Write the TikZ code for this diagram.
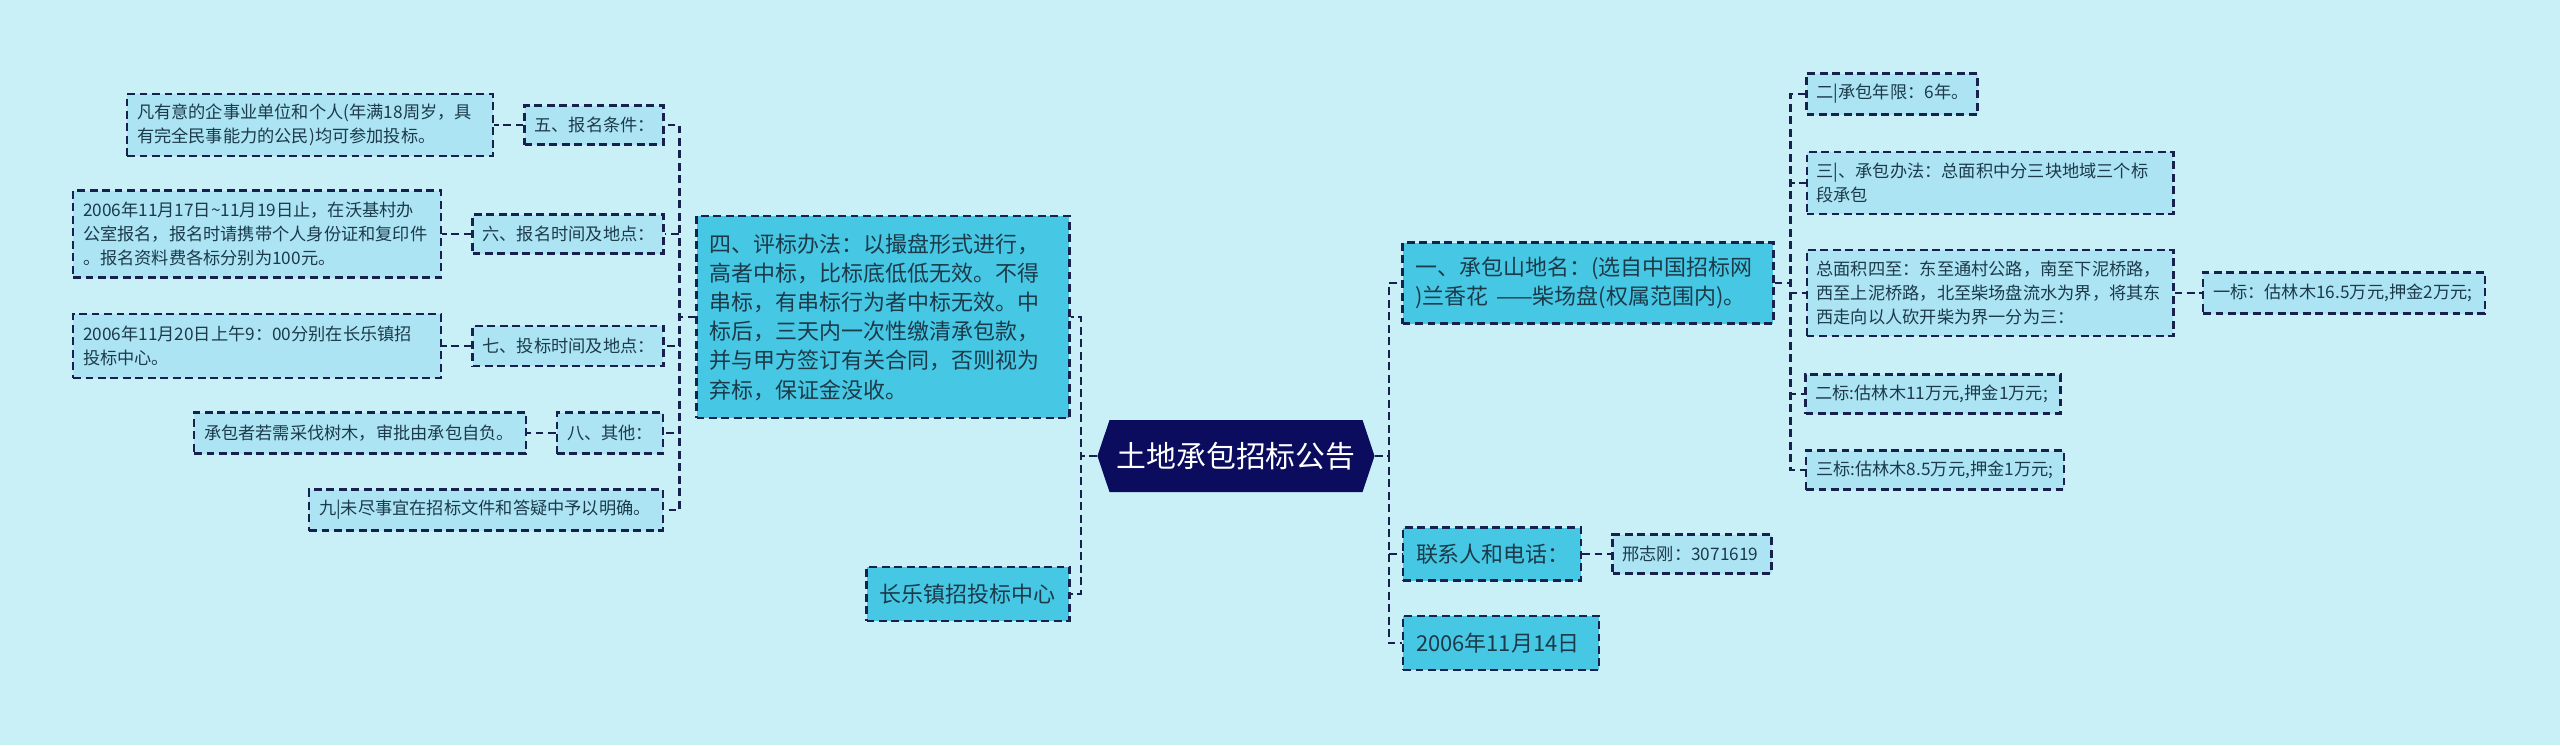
\documentclass[tikz,border=0pt]{standalone}
\usepackage{fontspec}
\setmainfont{Noto Sans CJK SC}
\usetikzlibrary{shapes.symbols}

\definecolor{bgcol}{HTML}{C9F0F7}
\definecolor{navy}{HTML}{0B0C5E}
\definecolor{edgecol}{HTML}{18204E}
\definecolor{maincol}{HTML}{46C8E4}
\definecolor{subcol}{HTML}{ACE4F3}
\definecolor{txtcol}{HTML}{1C3A4A}

\begin{document}
\begin{tikzpicture}[x=0.02cm, y=-0.02cm,
    link/.style={draw=edgecol, line width=1.2pt, dash pattern=on 4.5pt off 2.6pt},
    title/.style={signal, signal to=west and east, signal pointer angle=143,
        fill=navy, text=white, inner xsep=4pt, inner ysep=0pt,
        minimum width=5.42cm, minimum height=1.44cm,
        font=\fontsize{17}{20}\selectfont},
    mainbox/.style={draw=edgecol, line width=1.2pt, dash pattern=on 4.5pt off 2.6pt,
        fill=maincol, text=txtcol, align=left, inner xsep=0.26cm, inner ysep=0pt,
        font=\fontsize{12.5}{16.6}\selectfont},
    subbox/.style={draw=edgecol, line width=1.2pt, dash pattern=on 4.5pt off 2.6pt,
        fill=subcol, text=txtcol, align=left, inner xsep=0.2cm, inner ysep=0pt,
        font=\fontsize{9.8}{13.6}\selectfont}]

    \fill[bgcol] (0,0) rectangle (2560,745);
    \useasboundingbox (0,0) rectangle (2560,745);

    % Centre
    \node[title] (title) at (1236,456) {土地承包招标公告};

    % Left branch
    \node[mainbox, text width=6.94cm, minimum height=4.04cm] (pingbiao) at (883,317)
        {四、评标办法：以撮盘形式进行，\\高者中标，比标底低低无效。不得\\串标，有串标行为者中标无效。中\\标后，三天内一次性缴清承包款，\\并与甲方签订有关合同，否则视为\\弃标，保证金没收。};
    \node[mainbox, text width=3.54cm, minimum height=1.08cm] (zhongxin) at (968,594) {长乐镇招投标中心};

    \node[subbox, text width=2.38cm, minimum height=0.78cm] (tiaojian) at (594,125) {五、报名条件：};
    \node[subbox, text width=6.92cm, minimum height=1.24cm] (tiaojianTxt) at (310,125)
        {凡有意的企事业单位和个人(年满18周岁，具\\有完全民事能力的公民)均可参加投标。};
    \node[subbox, text width=3.42cm, minimum height=0.78cm] (baoming) at (568,234) {六、报名时间及地点：};
    \node[subbox, text width=6.96cm, minimum height=1.74cm] (baomingTxt) at (257,234)
        {2006年11月17日\textasciitilde11月19日止，在沃基村办\\公室报名，报名时请携带个人身份证和复印件\\。报名资料费各标分别为100元。};
    \node[subbox, text width=3.42cm, minimum height=0.8cm] (toubiao) at (568,346) {七、投标时间及地点：};
    \node[subbox, text width=6.96cm, minimum height=1.28cm] (toubiaoTxt) at (257,346)
        {2006年11月20日上午9：00分别在长乐镇招\\投标中心。};
    \node[subbox, text width=1.72cm, minimum height=0.82cm] (qita) at (610,433) {八、其他：};
    \node[subbox, text width=6.24cm, minimum height=0.82cm] (qitaTxt) at (360,433) {承包者若需采伐树木，审批由承包自负。};
    \node[subbox, text width=6.68cm, minimum height=0.82cm] (jiu) at (486,510) {九|未尽事宜在招标文件和答疑中予以明确。};

    % Right branch
    \node[mainbox, text width=6.9cm, minimum height=1.62cm] (shandi) at (1588,283)
        {一、承包山地名：(选自中国招标网\\)兰香花 ——柴场盘(权属范围内)。};
    \node[mainbox, text width=3.04cm, minimum height=1.06cm] (lianxi) at (1492,554) {联系人和电话：};
    \node[mainbox, text width=3.4cm, minimum height=1.08cm] (riqi) at (1501,643) {2006年11月14日};

    \node[subbox, text width=3.02cm, minimum height=0.82cm] (nianxian) at (1892,94) {二|承包年限：6年。};
    \node[subbox, text width=6.94cm, minimum height=1.24cm] (banfa) at (1990,183)
        {三|、承包办法：总面积中分三块地域三个标\\段承包};
    \node[subbox, text width=6.94cm, minimum height=1.72cm] (sizhi) at (1990,293)
        {总面积四至：东至通村公路，南至下泥桥路，\\西至上泥桥路，北至柴场盘流水为界，将其东\\西走向以人砍开柴为界一分为三：};
    \node[subbox, text width=5.24cm, minimum height=0.82cm] (yibiao) at (2344,293) {一标：估林木16.5万元,押金2万元;};
    \node[subbox, text width=4.7cm, minimum height=0.78cm] (erbiao) at (1933,394) {二标:估林木11万元,押金1万元;};
    \node[subbox, text width=4.76cm, minimum height=0.78cm] (sanbiao) at (1935,470) {三标:估林木8.5万元,押金1万元;};
    \node[subbox, text width=2.78cm, minimum height=0.78cm] (xing) at (1692,554) {邢志刚：3071619};

    % Connectors
    \draw[link] (title.west) -- ++(-16,0) |- (pingbiao.east);
    \draw[link] (title.west) -- ++(-16,0) |- (zhongxin.east);
    \draw[link] (title.east) -- ++(14,0) |- (shandi.west);
    \draw[link] (title.east) -- ++(14,0) |- (lianxi.west);
    \draw[link] (title.east) -- ++(14,0) |- (riqi.west);

    \draw[link] (pingbiao.west) -- ++(-16,0) |- (tiaojian.east);
    \draw[link] (pingbiao.west) -- ++(-16,0) |- (baoming.east);
    \draw[link] (pingbiao.west) -- ++(-16,0) |- (toubiao.east);
    \draw[link] (pingbiao.west) -- ++(-16,0) |- (qita.east);
    \draw[link] (pingbiao.west) -- ++(-16,0) |- (jiu.east);
    \draw[link] (tiaojian) -- (tiaojianTxt);
    \draw[link] (baoming) -- (baomingTxt);
    \draw[link] (toubiao) -- (toubiaoTxt);
    \draw[link] (qita) -- (qitaTxt);

    \draw[link] (shandi.east) -- ++(16,0) |- (nianxian.west);
    \draw[link] (shandi.east) -- ++(16,0) |- (banfa.west);
    \draw[link] (shandi.east) -- ++(16,0) |- (sizhi.west);
    \draw[link] (shandi.east) -- ++(16,0) |- (erbiao.west);
    \draw[link] (shandi.east) -- ++(16,0) |- (sanbiao.west);
    \draw[link] (sizhi) -- (yibiao);
    \draw[link] (lianxi) -- (xing);
\end{tikzpicture}
\end{document}
